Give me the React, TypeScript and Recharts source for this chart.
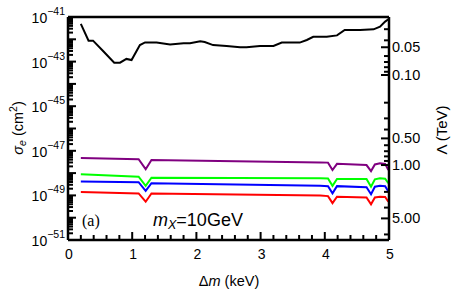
import { Line, LineChart, XAxis, YAxis } from "recharts";

const W = 459;
const H = 300;
const PL = 68;
const PR = 389;
const PT = 17;
const PB = 240;
const FONT = "'Liberation Sans', Arial, Helvetica, sans-serif";
const MAJ = 8;
const MIN = 5;
const TICK = "#000";

// upper (black) curve, sigma_e in cm^2 vs delta m in keV
const blackKeV = [
  0.2, 0.32, 0.39, 0.55, 0.72, 0.81, 0.91, 0.99, 1.12, 1.2, 1.38, 1.59, 1.8, 1.9, 2.06, 2.13, 2.26, 2.47,
  2.68, 2.78, 2.99, 3.2, 3.33, 3.61, 3.72, 3.82, 4.03, 4.19, 4.31, 4.55, 4.76, 4.86, 4.94, 4.99,
];
const blackSigma = [
  4.9e-42, 8.7e-43, 8.7e-43, 2.9e-43, 8.9e-44, 8.9e-44, 1.32e-43, 1.17e-43, 5.5e-43, 7.2e-43, 7.1e-43,
  5.9e-43, 6.6e-43, 6.6e-43, 8.1e-43, 7.6e-43, 5.5e-43, 5.0e-43, 4.4e-43, 4.4e-43, 5.0e-43, 5.0e-43,
  7.1e-43, 7.1e-43, 9.3e-43, 1.3e-42, 1.3e-42, 1.5e-42, 2.6e-42, 2.6e-42, 2.8e-42, 3.7e-42, 6.2e-42, 7.9e-42,
];

// lower curves share the same delta m grid
const bandKeV = [0.2, 1.1, 1.21, 1.3, 3.93, 4.05, 4.12, 4.19, 4.65, 4.72, 4.78, 4.86, 4.94, 4.99];
const purpleSigma = [4.7e-48, 4.2e-48, 1.5e-48, 3.9e-48, 3.0e-48, 2.95e-48, 1.38e-48, 2.6e-48, 2.3e-48, 1.23e-48, 2.45e-48, 2.75e-48, 2.6e-48, 1.38e-48];
const greenSigma = [8.9e-49, 6.9e-49, 2.7e-49, 6.2e-49, 5.9e-49, 5.75e-49, 2.7e-49, 5.5e-49, 5.5e-49, 2.45e-49, 5.25e-49, 5.9e-49, 5.6e-49, 3.5e-49];
const blueSigma = [4.2e-49, 3.9e-49, 1.58e-49, 3.5e-49, 2.7e-49, 2.6e-49, 1.23e-49, 2.6e-49, 2.3e-49, 1.12e-49, 2.45e-49, 2.7e-49, 2.6e-49, 1.48e-49];
const redSigma = [1.41e-49, 1.23e-49, 5.2e-50, 1.23e-49, 9.8e-50, 9.3e-50, 4.5e-50, 8.7e-50, 8.1e-50, 4.0e-50, 8.1e-50, 8.7e-50, 8.5e-50, 5.2e-50];

// right axis: Lambda (TeV) labels and where they sit on the sigma scale
const lambdaLabels = ["0.05", "0.10", "0.50", "1.00", "5.00"];
const lambdaLabelSigma = [4.4e-43, 2.5e-44, 3.6e-47, 2.3e-48, 9.3e-51];
const lambdaMinor = [0.03, 0.04, 0.06, 0.07, 0.08, 0.09, 0.2, 0.3, 0.4, 0.6, 0.7, 0.8, 0.9, 2, 3, 6];

const rows = (xs: number[], ys: number[]) => xs.map((x, i) => ({ x, s: ys[i] }));

const xTicks = Array.from({ length: 26 }, (_, i) => i / 5);
const yTicks: number[] = [];
for (let e = -51; e <= -41; e++) {
  yTicks.push(Number(`1e${e}`));
  if (e < -41) for (let m = 2; m <= 9; m++) yTicks.push(Number(`${m}e${e}`));
}
const rightTicks = [...lambdaLabelSigma, ...lambdaMinor.map((l) => lambdaLabelSigma[3] / l ** 4)];

const isMajorX = (v: number) => Math.abs(v - Math.round(v)) < 1e-6;

const bottomTick = (p: any) => {
  const v = p.payload.value;
  const major = isMajorX(v);
  return (
    <g>
      <line x1={p.x} x2={p.x} y1={PB} y2={PB - (major ? MAJ : MIN)} stroke={TICK} strokeWidth={2} />
      {major && (
        <text x={p.x + 1} y={PB + 19} textAnchor="middle" fontFamily={FONT} fontSize={14} fill="#000">
          {v}
        </text>
      )}
    </g>
  );
};

const topTick = (p: any) => {
  const major = isMajorX(p.payload.value);
  return (
    <g>
      <line x1={p.x} x2={p.x} y1={PT} y2={PT + (major ? MAJ : MIN)} stroke={TICK} strokeWidth={2} />
    </g>
  );
};

const leftTick = (p: any) => {
  const lg = Math.log10(p.payload.value);
  const e = Math.round(lg);
  const major = Math.abs(lg - e) < 1e-6;
  return (
    <g>
      <line x1={PL} x2={PL + (major ? MAJ : MIN)} y1={p.y} y2={p.y} stroke={TICK} strokeWidth={2} />
      {major && e % 2 !== 0 && (
        <text x={PL - 3} y={p.y + 6} textAnchor="end" fontFamily={FONT} fontSize={14} fill="#000">
          10
          <tspan dy={-8} fontSize={10.5}>
            {"\u2212" + Math.abs(e)}
          </tspan>
        </text>
      )}
    </g>
  );
};

const rightTick = (p: any) => {
  const v = p.payload.value;
  const idx = lambdaLabelSigma.findIndex((s) => Math.abs(s - v) / s < 1e-6);
  return (
    <g>
      <line x1={PR} x2={PR - (idx >= 0 ? MAJ : MIN)} y1={p.y} y2={p.y} stroke={TICK} strokeWidth={2} />
      {idx >= 0 && (
        <text x={PR + 3} y={p.y + 5} fontFamily={FONT} fontSize={14.5} fill="#000">
          {lambdaLabels[idx]}
        </text>
      )}
    </g>
  );
};

const series = [
  { name: "black", color: "#000000", data: rows(blackKeV, blackSigma) },
  { name: "purple", color: "#800080", data: rows(bandKeV, purpleSigma) },
  { name: "green", color: "#00ff00", data: rows(bandKeV, greenSigma) },
  { name: "blue", color: "#0000ff", data: rows(bandKeV, blueSigma) },
  { name: "red", color: "#ff0000", data: rows(bandKeV, redSigma) },
];

const frame = { stroke: "#000", strokeWidth: 2.5 };

export default function App() {
  return (
    <div style={{ position: "absolute", left: 0, top: 0, width: W, height: H, background: "#fff" }}>
      <LineChart width={W} height={H} margin={{ top: PT - 1, right: 0, bottom: 0, left: 0 }}>
        <XAxis xAxisId="b" type="number" dataKey="x" domain={[0, 5]} ticks={xTicks} interval={0}
          height={H - PB} axisLine={frame} tickLine={false} tickSize={0} tick={bottomTick} />
        <XAxis xAxisId="t" orientation="top" type="number" dataKey="x" domain={[0, 5]} ticks={xTicks}
          interval={0} height={1} axisLine={frame} tickLine={false} tickSize={0} tick={topTick} />
        <YAxis yAxisId="l" type="number" scale="log" domain={[1e-51, 1e-41]} ticks={yTicks} interval={0}
          width={PL} axisLine={frame} tickLine={false} tickSize={0} tick={leftTick} allowDataOverflow />
        <YAxis yAxisId="r" orientation="right" type="number" scale="log" domain={[1e-51, 1e-41]}
          ticks={rightTicks} interval={0} width={W - PR} axisLine={frame} tickLine={false} tickSize={0}
          tick={rightTick} allowDataOverflow />
        {series.map((s) => (
          <Line key={s.name} xAxisId="b" yAxisId="l" data={s.data} dataKey="s" stroke={s.color}
            strokeWidth={2} dot={false} type="linear" isAnimationActive={false} />
        ))}
      </LineChart>
      <svg width={W} height={H} style={{ position: "absolute", left: 0, top: 0, pointerEvents: "none" }}>
        <text transform="translate(23,128) rotate(-90)" textAnchor="middle" fontFamily={FONT} fontSize={14.5}>
          <tspan fontStyle="italic">σ</tspan>
          <tspan fontStyle="italic" fontSize={10.5} dy={3}>e</tspan>
          <tspan dy={-3}> (cm</tspan>
          <tspan fontSize={10.5} dy={-6}>2</tspan>
          <tspan dy={6}>)</tspan>
        </text>
        <text transform="translate(447,130) rotate(-90)" textAnchor="middle" fontFamily={FONT} fontSize={15}>
          Λ (TeV)
        </text>
        <text x={229} y={286} textAnchor="middle" fontFamily={FONT} fontSize={14.5}>
          Δ<tspan fontStyle="italic">m</tspan> (keV)
        </text>
        <text x={82} y={226} fontFamily="'Liberation Serif', 'Times New Roman', serif" fontSize={16}>
          (a)
        </text>
        <text x={153} y={226} fontFamily={FONT} fontSize={18}>
          <tspan fontStyle="italic">m</tspan>
          <tspan fontStyle="italic" fontSize={12.5} dy={3}>X</tspan>
          <tspan dy={-3}>=10GeV</tspan>
        </text>
      </svg>
    </div>
  );
}
